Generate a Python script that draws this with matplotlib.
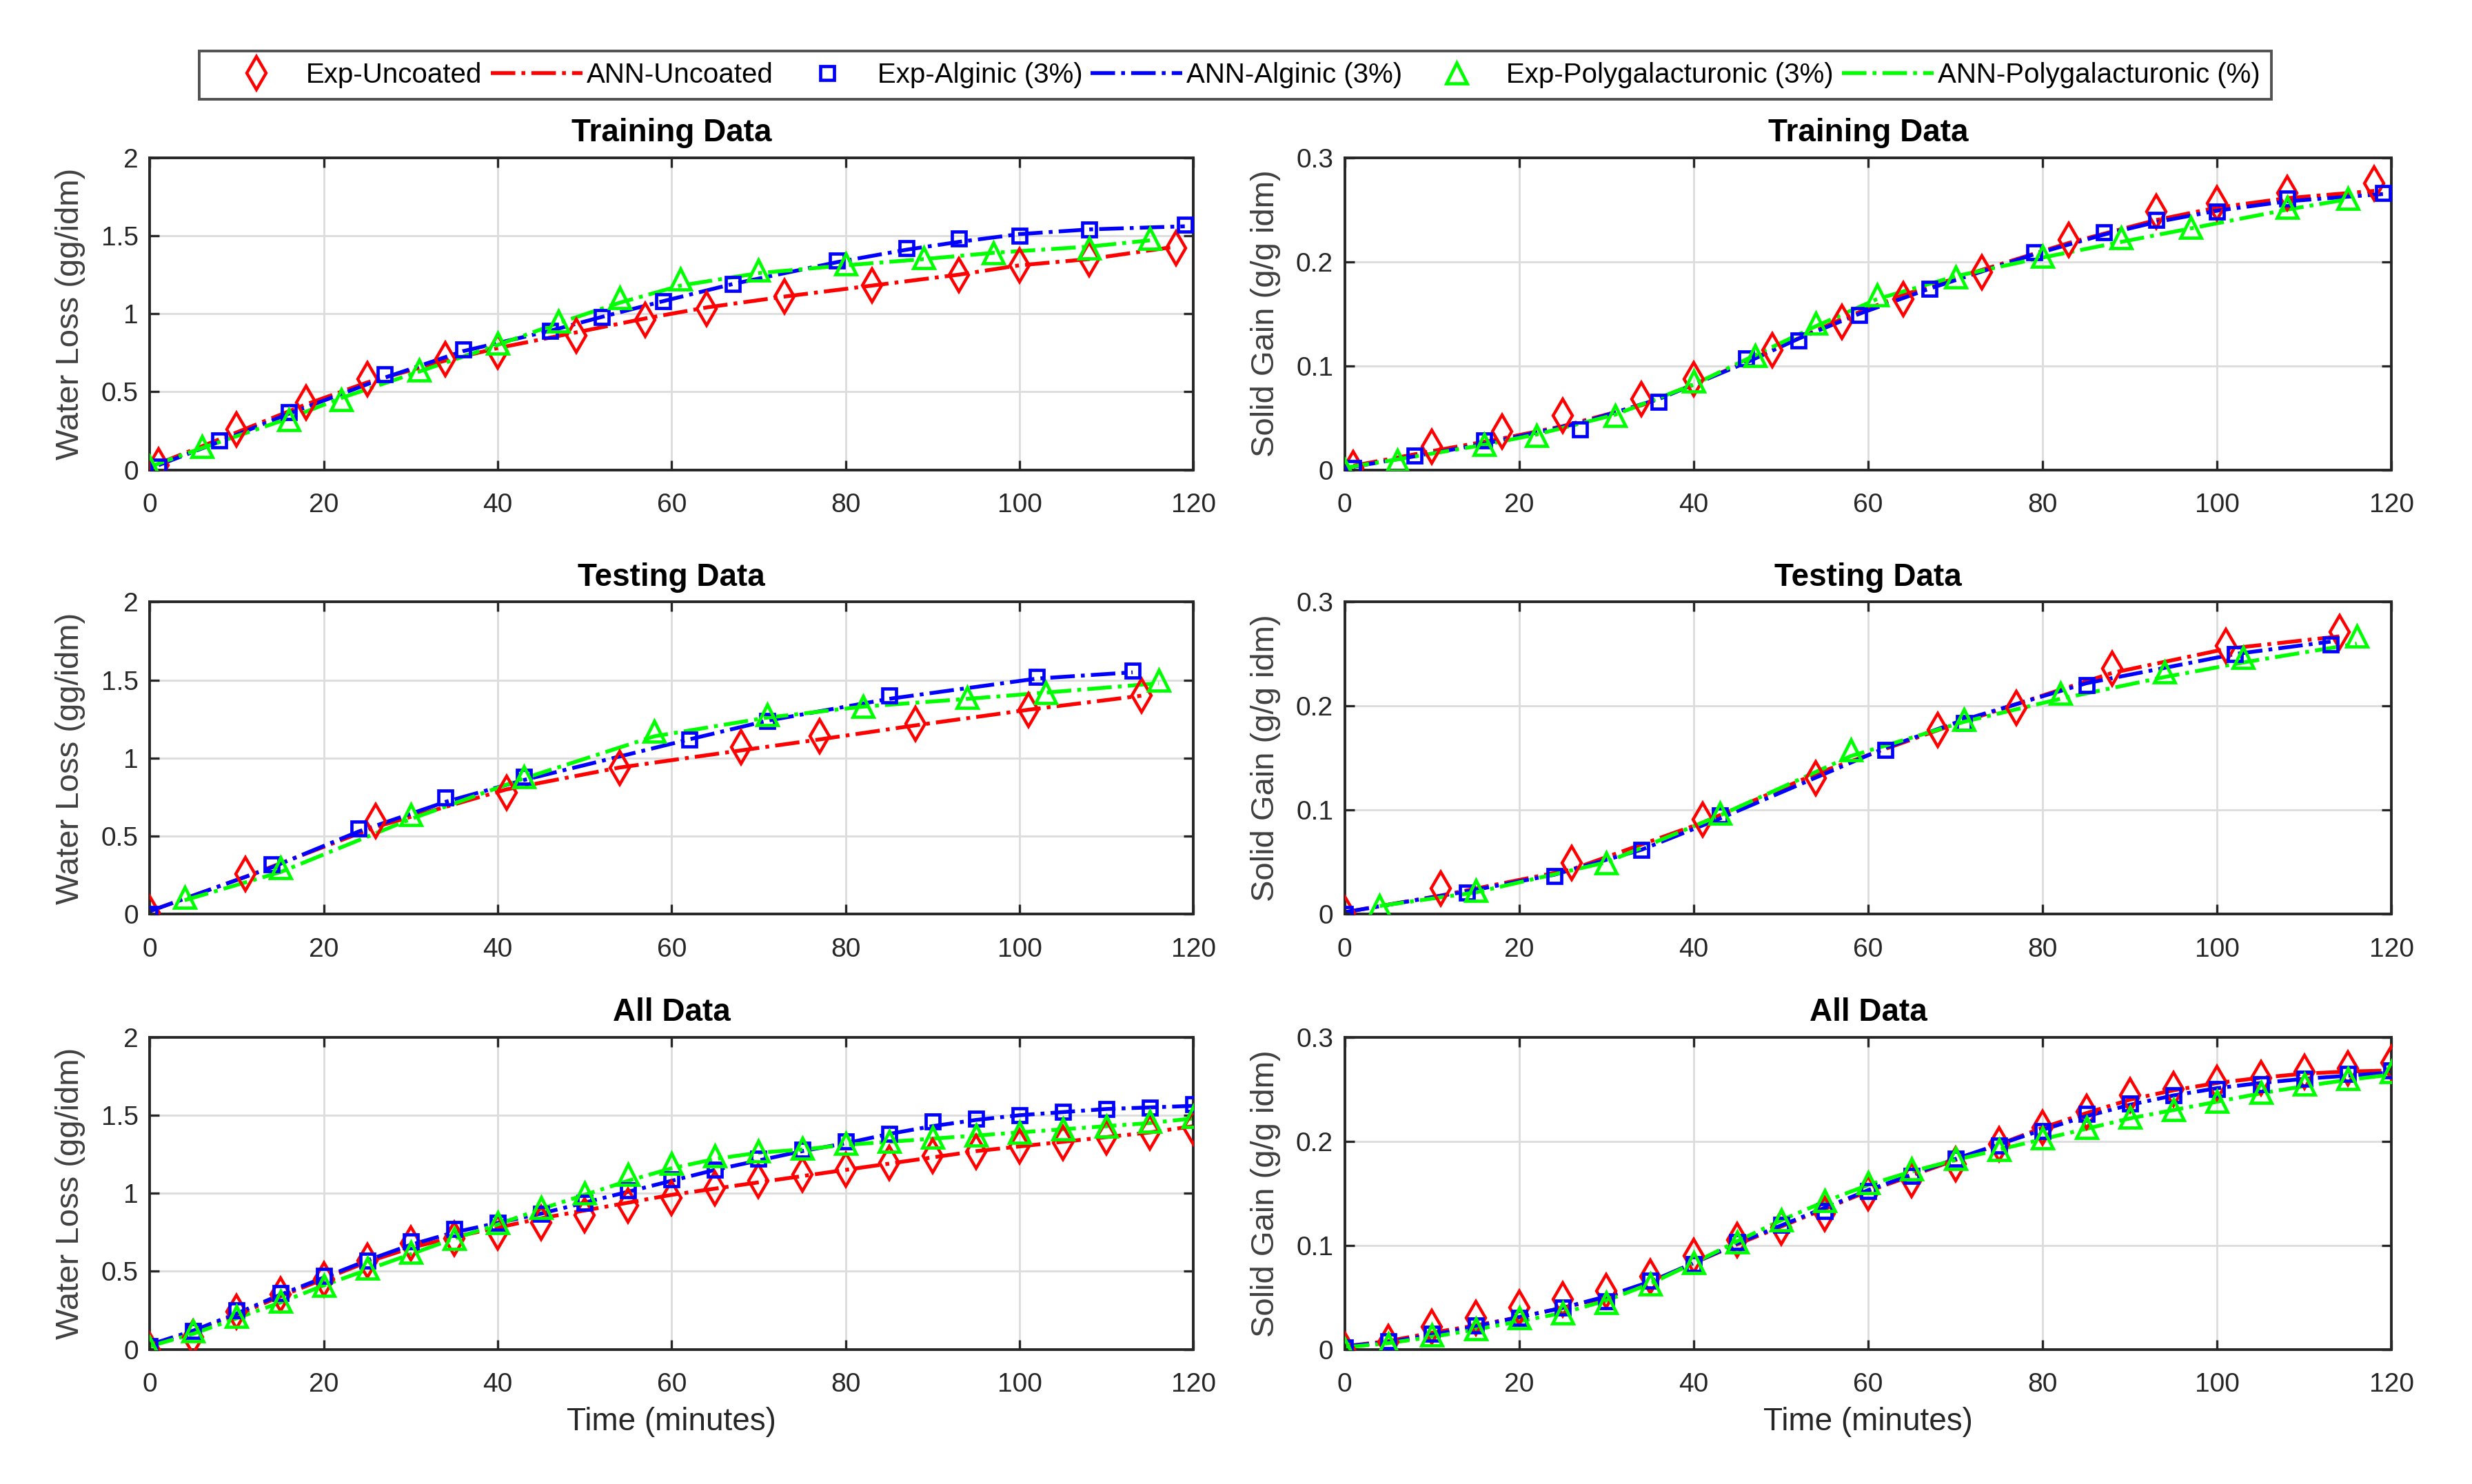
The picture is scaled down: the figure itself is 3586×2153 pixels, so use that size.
import numpy as np
import matplotlib
matplotlib.use('Agg')
import matplotlib.pyplot as plt
from matplotlib.lines import Line2D

# ---- data ----
# Training data (time in minutes)
wl_tr_t_unc = [1, 10, 18, 25, 34, 40, 49, 57, 64, 73, 83, 93, 100, 108, 118]
wl_tr_unc = [0.03, 0.26, 0.43, 0.58, 0.71, 0.76, 0.86, 0.96, 1.03, 1.11, 1.18, 1.25, 1.31, 1.35, 1.42]
wl_tr_unc_ann = [0.04, 0.24, 0.42, 0.56, 0.70, 0.78, 0.88, 0.97, 1.04, 1.11, 1.18, 1.25, 1.31, 1.35, 1.43]
wl_tr_t_alg = [1, 8, 16, 27, 36, 46, 52, 59, 67, 79, 87, 93, 100, 108, 119]
wl_tr_alg = [0.02, 0.19, 0.37, 0.61, 0.77, 0.89, 0.98, 1.08, 1.19, 1.34, 1.42, 1.48, 1.50, 1.54, 1.57]
wl_tr_alg_ann = [0.03, 0.18, 0.36, 0.59, 0.76, 0.89, 0.98, 1.08, 1.19, 1.33, 1.41, 1.46, 1.51, 1.54, 1.56]
wl_tr_t_pol = [0, 6, 16, 22, 31, 40, 47, 54, 61, 70, 80, 89, 97, 108, 115]
wl_tr_pol = [0.02, 0.15, 0.32, 0.45, 0.64, 0.81, 0.95, 1.10, 1.22, 1.28, 1.32, 1.36, 1.39, 1.42, 1.48]
wl_tr_pol_ann = [0.02, 0.14, 0.33, 0.46, 0.63, 0.80, 0.94, 1.07, 1.18, 1.26, 1.31, 1.35, 1.39, 1.43, 1.47]

sg_tr_t_unc = [1, 10, 18, 25, 34, 40, 49, 57, 64, 73, 83, 93, 100, 108, 118]
sg_tr_unc = [0.002, 0.022, 0.037, 0.052, 0.068, 0.087, 0.115, 0.142, 0.164, 0.190, 0.221, 0.248, 0.256, 0.266, 0.275]
sg_tr_unc_ann = [0.004, 0.018, 0.030, 0.042, 0.062, 0.082, 0.115, 0.145, 0.168, 0.192, 0.218, 0.240, 0.252, 0.261, 0.268]
sg_tr_t_alg = [1, 8, 16, 27, 36, 46, 52, 59, 67, 79, 87, 93, 100, 108, 119]
sg_tr_alg = [0.002, 0.014, 0.028, 0.039, 0.065, 0.107, 0.124, 0.149, 0.174, 0.209, 0.228, 0.240, 0.248, 0.261, 0.266]
sg_tr_alg_ann = [0.003, 0.013, 0.025, 0.045, 0.068, 0.103, 0.126, 0.150, 0.174, 0.207, 0.226, 0.238, 0.249, 0.258, 0.265]
sg_tr_t_pol = [0, 6, 16, 22, 31, 40, 47, 54, 61, 70, 80, 89, 97, 108, 115]
sg_tr_pol = [0.000, 0.009, 0.024, 0.033, 0.052, 0.085, 0.110, 0.141, 0.168, 0.185, 0.205, 0.223, 0.233, 0.252, 0.261]
sg_tr_pol_ann = [0.002, 0.010, 0.024, 0.034, 0.053, 0.082, 0.110, 0.138, 0.164, 0.186, 0.204, 0.219, 0.232, 0.250, 0.260]

# Testing data
wl_te_t_unc = [0, 11, 26, 41, 54, 68, 77, 88, 101, 114]
wl_te_unc = [0.01, 0.26, 0.60, 0.78, 0.94, 1.07, 1.14, 1.22, 1.31, 1.40]
wl_te_unc_ann = [0.02, 0.24, 0.56, 0.80, 0.94, 1.05, 1.12, 1.21, 1.31, 1.40]
wl_te_t_alg = [0, 14, 24, 34, 43, 62, 71, 85, 102, 113]
wl_te_alg = [0.00, 0.32, 0.55, 0.75, 0.88, 1.12, 1.24, 1.40, 1.52, 1.56]
wl_te_alg_ann = [0.02, 0.30, 0.53, 0.72, 0.86, 1.12, 1.24, 1.38, 1.51, 1.55]
wl_te_t_pol = [4, 15, 30, 43, 58, 71, 82, 94, 103, 116]
wl_te_pol = [0.11, 0.30, 0.64, 0.88, 1.17, 1.28, 1.33, 1.39, 1.42, 1.50]
wl_te_pol_ann = [0.09, 0.27, 0.61, 0.87, 1.14, 1.26, 1.33, 1.38, 1.42, 1.48]

sg_te_t_unc = [0, 11, 26, 41, 54, 68, 77, 88, 101, 114]
sg_te_unc = [0.001, 0.025, 0.049, 0.091, 0.131, 0.177, 0.198, 0.236, 0.258, 0.271]
sg_te_unc_ann = [0.002, 0.018, 0.043, 0.088, 0.135, 0.177, 0.202, 0.232, 0.255, 0.267]
sg_te_t_alg = [0, 14, 24, 34, 43, 62, 71, 85, 102, 113]
sg_te_alg = [0.000, 0.021, 0.037, 0.062, 0.095, 0.158, 0.184, 0.220, 0.250, 0.259]
sg_te_alg_ann = [0.002, 0.022, 0.038, 0.062, 0.092, 0.160, 0.187, 0.222, 0.250, 0.262]
sg_te_t_pol = [4, 15, 30, 43, 58, 71, 82, 94, 103, 116]
sg_te_pol = [0.008, 0.023, 0.049, 0.097, 0.158, 0.187, 0.212, 0.233, 0.247, 0.267]
sg_te_pol_ann = [0.008, 0.021, 0.050, 0.095, 0.152, 0.185, 0.207, 0.228, 0.242, 0.260]

# All data, every 5 minutes
t_all = [0, 5, 10, 15, 20, 25, 30, 35, 40, 45, 50, 55, 60, 65, 70, 75, 80, 85, 90, 95, 100, 105, 110, 115, 120]
wl_all_unc = [0.00, 0.08, 0.24, 0.35, 0.45, 0.57, 0.68, 0.71, 0.75, 0.81, 0.86, 0.92, 0.97, 1.03, 1.08,
              1.12, 1.15, 1.195, 1.24, 1.265, 1.30, 1.325, 1.36, 1.39, 1.42]
wl_all_unc_ann = [0.02, 0.11, 0.22, 0.34, 0.45, 0.56, 0.65, 0.72, 0.78, 0.84, 0.89, 0.94, 0.99, 1.03, 1.07,
                  1.11, 1.15, 1.19, 1.23, 1.27, 1.30, 1.33, 1.36, 1.39, 1.43]
wl_all_alg = [0.02, 0.12, 0.25, 0.36, 0.47, 0.57, 0.69, 0.77, 0.81, 0.87, 0.94, 1.02, 1.09, 1.15, 1.22,
              1.28, 1.33, 1.38, 1.46, 1.48, 1.50, 1.52, 1.54, 1.55, 1.57]
wl_all_alg_ann = [0.03, 0.12, 0.23, 0.35, 0.46, 0.57, 0.67, 0.75, 0.81, 0.87, 0.94, 1.01, 1.08, 1.15, 1.21,
                  1.27, 1.32, 1.38, 1.43, 1.47, 1.50, 1.52, 1.54, 1.55, 1.56]
wl_all_pol = [0.01, 0.12, 0.21, 0.31, 0.41, 0.52, 0.62, 0.71, 0.81, 0.91, 1.00, 1.12, 1.19, 1.24, 1.27,
              1.29, 1.32, 1.33, 1.36, 1.37, 1.39, 1.41, 1.43, 1.46, 1.49]
wl_all_pol_ann = [0.02, 0.10, 0.20, 0.30, 0.41, 0.51, 0.61, 0.71, 0.80, 0.90, 0.99, 1.08, 1.16, 1.22, 1.26,
                  1.28, 1.31, 1.33, 1.35, 1.37, 1.39, 1.41, 1.43, 1.45, 1.48]

sg_all_unc = [0.000, 0.007, 0.022, 0.030, 0.040, 0.048, 0.056, 0.070, 0.090, 0.105, 0.117, 0.130, 0.150,
              0.163, 0.178, 0.197, 0.213, 0.228, 0.244, 0.250, 0.256, 0.261, 0.267, 0.270, 0.275]
sg_all_unc_ann = [0.003, 0.008, 0.016, 0.023, 0.031, 0.040, 0.050, 0.064, 0.083, 0.101, 0.118, 0.135, 0.152,
                  0.167, 0.182, 0.197, 0.213, 0.227, 0.240, 0.249, 0.256, 0.261, 0.265, 0.267, 0.268]
sg_all_alg = [0.002, 0.008, 0.015, 0.023, 0.030, 0.040, 0.046, 0.066, 0.082, 0.103, 0.120, 0.133, 0.152,
              0.167, 0.183, 0.196, 0.210, 0.226, 0.236, 0.244, 0.250, 0.255, 0.260, 0.265, 0.268]
sg_all_alg_ann = [0.003, 0.007, 0.014, 0.022, 0.031, 0.040, 0.051, 0.065, 0.083, 0.102, 0.119, 0.136, 0.153,
                  0.168, 0.183, 0.197, 0.211, 0.224, 0.235, 0.244, 0.251, 0.256, 0.260, 0.263, 0.266]
sg_all_pol = [0.000, 0.005, 0.014, 0.020, 0.030, 0.035, 0.045, 0.063, 0.083, 0.103, 0.124, 0.143, 0.160,
              0.173, 0.183, 0.192, 0.203, 0.213, 0.223, 0.230, 0.238, 0.247, 0.255, 0.260, 0.267]
sg_all_pol_ann = [0.002, 0.006, 0.012, 0.019, 0.027, 0.035, 0.047, 0.063, 0.083, 0.104, 0.124, 0.142, 0.158,
                  0.171, 0.182, 0.192, 0.202, 0.212, 0.222, 0.230, 0.238, 0.246, 0.253, 0.259, 0.264]

titles = ['Training Data', 'Testing Data', 'All Data']
legend_labels = ['Exp-Uncoated', 'ANN-Uncoated', 'Exp-Alginic (3%)', 'ANN-Alginic (3%)',
                 'Exp-Polygalacturonic (3%)', 'ANN-Polygalacturonic (%)']

RED = '#ff0000'
BLUE = '#0000ff'
GREEN = '#00ff00'
TXT = '#262626'

plt.rcParams['font.family'] = ['Liberation Sans', 'DejaVu Sans']

panels = [
    (0, 0, [(wl_tr_t_unc, wl_tr_unc, wl_tr_unc_ann), (wl_tr_t_alg, wl_tr_alg, wl_tr_alg_ann),
            (wl_tr_t_pol, wl_tr_pol, wl_tr_pol_ann)]),
    (0, 1, [(sg_tr_t_unc, sg_tr_unc, sg_tr_unc_ann), (sg_tr_t_alg, sg_tr_alg, sg_tr_alg_ann),
            (sg_tr_t_pol, sg_tr_pol, sg_tr_pol_ann)]),
    (1, 0, [(wl_te_t_unc, wl_te_unc, wl_te_unc_ann), (wl_te_t_alg, wl_te_alg, wl_te_alg_ann),
            (wl_te_t_pol, wl_te_pol, wl_te_pol_ann)]),
    (1, 1, [(sg_te_t_unc, sg_te_unc, sg_te_unc_ann), (sg_te_t_alg, sg_te_alg, sg_te_alg_ann),
            (sg_te_t_pol, sg_te_pol, sg_te_pol_ann)]),
    (2, 0, [(t_all, wl_all_unc, wl_all_unc_ann), (t_all, wl_all_alg, wl_all_alg_ann),
            (t_all, wl_all_pol, wl_all_pol_ann)]),
    (2, 1, [(t_all, sg_all_unc, sg_all_unc_ann), (t_all, sg_all_alg, sg_all_alg_ann),
            (t_all, sg_all_pol, sg_all_pol_ann)]),
]

# colour, marker, size, edge width
styles = [(RED, 'd', 12, 1.6), (BLUE, 's', 7, 1.7), (GREEN, '^', 11, 1.7)]
LW = 2.0

fig = plt.figure(figsize=(17.93, 10.765), dpi=200)

lefts = [0.0606, 0.5440]
widths = [0.4222, 0.4235]
bottoms = [0.6834, 0.3839, 0.0907]
h = 0.2104

for row, col, series in panels:
    ax = fig.add_axes([lefts[col], bottoms[row], widths[col], h])
    for (t, exp, ann), (c, m, ms, mew) in zip(series, styles):
        ax.plot(t, ann, linestyle='-.', color=c, lw=LW, zorder=2)
        ax.plot(t, exp, linestyle='none', marker=m, ms=ms, mfc='none', mec=c, mew=mew, zorder=3)
    ax.set_xlim(0, 120)
    ax.set_xticks(np.arange(0, 121, 20))
    if col == 0:
        ax.set_ylim(0, 2)
        ax.set_yticks([0, 0.5, 1, 1.5, 2])
        ax.set_yticklabels(['0', '0.5', '1', '1.5', '2'])
        ax.set_ylabel('Water Loss (gg/idm)', fontsize=17, color='#404040', labelpad=8)
    else:
        ax.set_ylim(0, 0.3)
        ax.set_yticks([0, 0.1, 0.2, 0.3])
        ax.set_yticklabels(['0', '0.1', '0.2', '0.3'])
        ax.set_ylabel('Solid Gain (g/g idm)', fontsize=17, color='#404040', labelpad=8)
    ax.grid(True, color='#dcdcdc', lw=1.0)
    ax.set_axisbelow(True)
    ax.tick_params(direction='in', top=True, right=True, length=5, width=1.2,
                   labelsize=14, colors=TXT)
    ax.tick_params(axis='y', pad=6)
    ax.tick_params(axis='x', pad=12)
    for sp in ax.spines.values():
        sp.set_linewidth(1.4)
        sp.set_color(TXT)
    ax.set_title(titles[row], fontsize=16.5, fontweight='bold', pad=8.5)
    if row == 2:
        ax.set_xlabel('Time (minutes)', fontsize=16.5, color=TXT, labelpad=5)

handles = [
    Line2D([], [], ls='none', marker='d', ms=12, mfc='none', mec=RED, mew=1.6),
    Line2D([], [], ls='-.', color=RED, lw=LW),
    Line2D([], [], ls='none', marker='s', ms=7, mfc='none', mec=BLUE, mew=1.7),
    Line2D([], [], ls='-.', color=BLUE, lw=LW),
    Line2D([], [], ls='none', marker='^', ms=11, mfc='none', mec=GREEN, mew=1.7),
    Line2D([], [], ls='-.', color=GREEN, lw=LW),
]
leg = fig.legend(handles, legend_labels, ncol=6, loc='center', bbox_to_anchor=(0.4997, 0.9495),
                 fontsize=14.5, frameon=True, fancybox=False, edgecolor=TXT,
                 handlelength=3.3, handletextpad=0.15, columnspacing=0.3, borderpad=0.4,
                 borderaxespad=0)
leg.get_frame().set_linewidth(1.4)

fig.savefig('out.png', dpi=200, facecolor='white')
